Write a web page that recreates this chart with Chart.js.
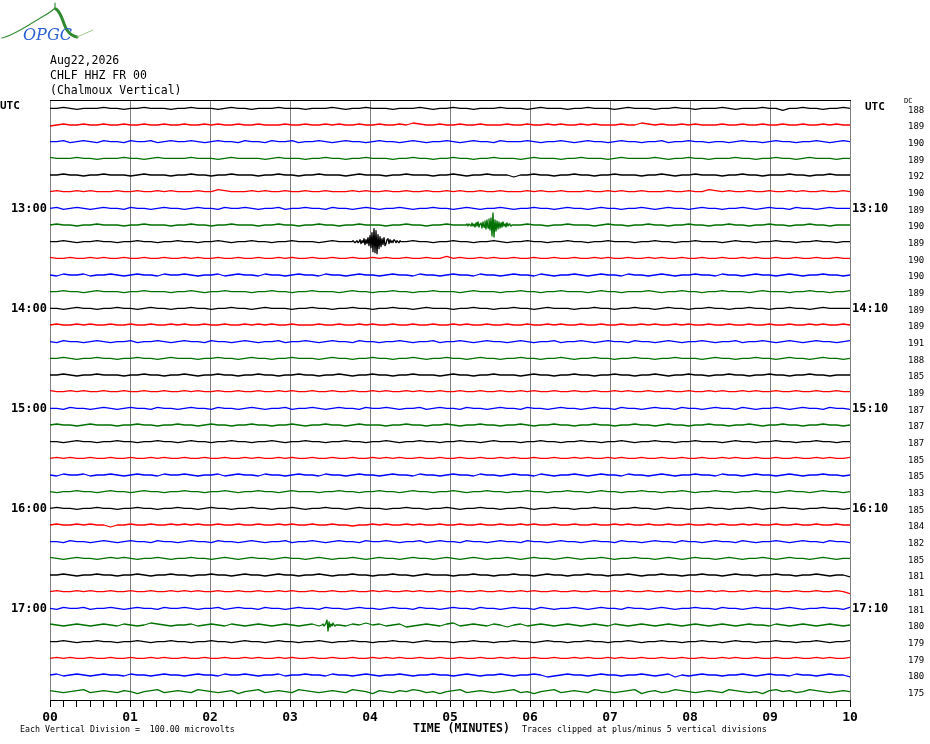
<!DOCTYPE html>
<html><head><meta charset="utf-8">
<script src="https://cdn.jsdelivr.net/npm/chart.js@4.4.1/dist/chart.umd.min.js"></script>
<style>html,body{margin:0;padding:0;background:#fff}canvas{display:block}</style>
</head><body>
<canvas id="c" width="930" height="744"></canvas>
<script>
// ---------------- DATA ----------------
const headerLines = ["Aug22,2026", "CHLF HHZ FR 00", "(Chalmoux Vertical)"];
const minuteLabels = ["00","01","02","03","04","05","06","07","08","09","10"];
const leftHourLabels = ["13:00","14:00","15:00","16:00","17:00"];
const rightHourLabels = ["13:10","14:10","15:10","16:10","17:10"];
const dcValues = [188,189,190,189,192,190,189,190,189,190,190,189,189,189,191,188,185,189,
                  187,187,187,185,185,183,185,184,182,185,181,181,181,180,179,179,180,175];
// trace samples over 10 minutes ('m' = 0, each letter step = 1 pixel of deflection, up positive)
const traces = [
"mmnmlmmmnm mlmmnmmmlm mnmmmlmnmm lmmmnmmmlm mmnmlmmnmm mlmmmnmlmm nmmlmmmnmm mlmnmmmlmm nmmmlmnmmm lmmnmmlmmm nmlmmmnmmk mmnmmlmmnm",
"lmnmmnmmnm mnmmnmmnmm nmmnmnmmnm mnmmmnmmnm mnmnmmnmmn mmnmonmmnm mnmmnmmmnm mnmmnmnmmn mnmmmnmmon mnmmnmnmmm nmmnmmnmmn mmnmmnmnmm",
"mmnlmnmlnm mlnmmnlmnm mnmlmnmmln mmlnmmnlmm nmlmnmmlmn mmlmnmlmmn mlmnmmlnmm mnmlmmnmlm nmmlmnmmlm mnlmmnmmlm mlmnmmlmnm mlmmnmlmnm",
"nmmmnmmlmm mnmmlmnmmm mnmmmlmnmm mmlmnmmmlm mnmmlmmnmm mlmmnmmlmm nmmlmmnmmm lmnmmmlmmn mmmlmnmmmm nmlmmnmmlm mmnmmlmmnm mlmnmmmlmm",
"mmnmmlmmnm mmlmnmmmlm mnmmlmmnmm mlmmnmmlmm nmmmlmnmmm lmmnmmmlmm nmlmmnmmmk mmnmmlmmnm mlmmnmmmlm mnmlmmnmmm lmmnmmlmmm nmmlmmnmmm",
"mnmmnmnmmm nmmnmmnmnm mmnmmonmmm nmnmmnmmnm mnmmmnmnmm nmmnmmnmmn mnmmnmmnmm mnmnmmnmmm nmmnmnmmnm mmnmmnmmon mnmmnmmnmm nmnmmnmmnm",
"mnlmnmlmnm mlnmmlmnmm lmnmmlnmmn mlmmnlmmnm mlnmmlmnml mmnmlmmnmm lmnmlmmnml mmnmmlmnmm lmnmmlmmnm lmnmmlmnmm lmmnmlmnmm lnmmlmnmmm",
"mnmmlmmnmm mlmmnmmmlm mnmmlmmnmm mlmmnmmlmm nmmlmmnmmm lmmnmmlmmn mmlmmnmmlm mnmmlmmnmm mlmnmmlmmn mmlmmnmmlm mnmmlmmnmm lmmnmmlmmm",
"mmnmlmmnmm lmmnmmlmmn mmlmmnmlmm nmmlmmnmmm lmnmmlmmnm mlmmnmmlmm nmmlmmnmlm mnmmlmmnmm lmmnmmmlmm nmmlmmnmmm lmnmmlmmnm mlmmnmmlmm",
"nmmnmmnmnm mnmmnmmnmm nmnmmnmmnm mnmmnmnmmn mmnmmnmmnm nmmnmmnmmo mnmmnmnmmn mmnmmnmmnm mnmnmmnmmn mnmmnmmnmm nmmnmnmmnm mnmmnmmnmm",
"mlnmmnlmmn mlmnmmlnmm nmlmmnlmnm mlnmmlmnmm lnmmlmnmml mnmmlnmmlm nmmlnmmlmn mmlnmlmmnm lmnmmlnmml mnmlmmnmml nmmlmnmmlm nmlmmnmmlm",
"mmnmmlmnmm mlmmnmmmlm mnmlmmnmmm lmmnmmlmmn mmmlmnmmlm mnmmlmmnmm mlmnmmmlmm nmmlmmnmmm lmnmmlmmmn mlmmnmmlmm nmmmlmnmmm lmmnmmlmmn",
"mmlmnmmlmm nmmlmnmmlm mnmmlmmnmm lmnmmmlmmn mmlmmnmmlm mnmmlmnmmm lmmnmmlmmn mmlmnmmmlm mnmmlmmnmm lmnmmlmmnm mlmmnmmlmm nmmlmnmmmm",
"mnmmnmnmmn mmnmmnmmnm nmmnmmnmmn mnmnmmnmmm nmmnmmnmnm mnmmnmmnmm nmnmmnmmnm mnmmnmnmmn mmnmmnmmnm nmmnmnmmnm mnmmnmmnmm nmmnmnmmnm",
"mlnmmlmnml mmnlmmnmlm nmmlnmmlmn mlmmnlmmnm lmnmmlnmml mmnmlmmnlm mnmlmnmmlm nmlmmnlmmn mlmnmmlnmm lmnmlmmnml mmnlmmnmlm nmlmnmmlmn",
"mmnmlmmnmm lmmnmmlmnm mmlmmnmmlm nmmlmmnmmm lmnmmlmmnm mlmmnmlmmn mmlmnmmlmm nmmlmmnmlm mnmmlmmnmm lmmnmmmlmn mmlmmnmmlm nmmlmnmmlm",
"mmnmlmmnmm mlmmnmmlmm nmlmmnmmlm mnmmlmmnmm lmmnmlmmnm mlmmnmmmlm nmmlmmnmmm lmnmmlmmnm mlmmnmmlmm nmlmmnmmlm mnmmlmmnmm lmmnmmlmmm",
"nmmnmnmmnm mnmmnmmnmm nmnmmnmmnm mnmmnmnmmn mmnmmnmmnm nmmnmnmmnm mnmmnmmnmm nmnmmnmmnm mnmmnmnmmn mmnmmnmmnm nmmnmnmmnm mnmmnmmnmm",
"mmlnmmlmnm lmnmmlnmml mnmmlnmmlm nmlmmnlmmn mlmnmmlnmm nmlmmnlmnm mlnmmlmnmm lnmmlmnmml mnmmlnmmlm nmmlnmmlmn mmlnmlmmnm lmnmmlnmml",
"mnmmlmnmmm lmmnmmlmmn mmlmnmmlmm nmmlmmnmlm mnmmlmnmmm lmmnmmlmmn mlmmnmmlmm nmlmmnmmlm mnmmlmmnmm lmnmmlmmnm mlmmnmlmmn mmlmmnmmlm",
"mmlmnmmlmm nmmlmmnmml mnmmlmmnmm lmmnmlmmnm mlmmnmmlmm nmlmmnmmlm mnmmlmnmmm lmmnmmlmmn mmlmmnmlmm nmmlmmnmmm lmnmmlmmnm mlmmnmmlmm",
"mnmnmmnmmn mmnmmnmnmm nmmnmmnmmn mnmmnmnmmn mmnmmnmmnm nmnmmnmmnm mnmmnmmnmn mmnmmnmmnm nmmnmnmmnm mnmmnmmnmm nmnmmnmmnm mnmmnmnmmn",
"mlnmmnlmmn mlmnmmlnmm nmlmmnlmnm mlnmmlmnmm lnmmlmnmml mnmmlnmmlm nmmlnmmlmn mmlnmlmmnm lmnmmlnmml mnmlmmnmml nmmlmnmmlm nmlmmnmmlm",
"mlmmnmmlmn mmlmnmmlmm nmmlmmnmlm mnmmlmnmmm lmmnmmlmmn mmlmnmmlmm nmlmmnmmlm mnmmlmmnmm lmnmmlmmnm mlmmnmlmmn mmlmmnmmlm nmmlmnmmlm",
"mnmmlmmnmm lmmnmmlmmn mmlmnmmlmm nmmlmmnmlm mnmmlmnmmm lmmnmmlmmn mlmmnmmlmm nmlmmnmmlm mnmmlmmnmm lmnmmlmmnm mlmmnmlmmn mmlmmnmmlm",
"mnmmnmnmmk mmnmmnmmnm nmnmmnmmnm mnmmnmnmmn mmnmmlmmnm nmmnmnmmnm mnmmnmmnmm nmnmmnmmnm mnmmnmnmmn mmnmmnmmnm nmmnmnmmnm mnmmnmmnmm",
"mmlnmmlmnm lmnmmlnmml mnmmlnmmlm nmlmmnlmmn mlmnmmlnmm nmlmmnlmnm mlnmmlmnmm lnmmlmnmml mnmmlnmmlm nmmlnmmlmn mmlnmlmmnm lmnmmlnmml",
"nmlmnmmlmn mnmlmmnmlm mnmmlmnmlm nmmlmnmmlm nmlmmnmlmn mmlmnmmlmn mlmnmlmmnm lmnmmlmnml mmnmlmmnmm lmnmlmnmml mnmlmmnmlm nmmlmnmlmm",
"mmnmlmmnmm lmmnmlmmnm mlmmnmmlmn mmlmnmmlmm nmlmmnmmlm mnmmlmnmmm lmmnmmlmmn mmlmnmmlmm nmmlmmnmlm mnmmlmmnmm lmnmmlmmnm mlmmnmlmmk",
"mnmmnmnmmn mmnmmnmmnm nmnmmnmmnm mnmmnmnmmn mmnmmnmmnm nmmnmnmmnm mnmmnmmnmm nmnmmnmmnm mnmmnmnmmn mmnmmnmmnm nmmnmnmmnm mnmmnmmnmk",
"mlnmmnlmmn mlmnmmlnmm nmlmmnlmnm mlnmmlmnmm lnmmlmnmml mnmmlnmmlm nmmlnmmlmn mmlnmlmmnm lmnmmlnmml mnmlmmnmml nmmlmnmmlm nmlmmnmmln",
"nmlmnmlmnm lnmlmonmlm mnlmnmlnml mnmlmnmlmn lmnmlnmomn lmnklmnmln olmnmlnmkm nlmnmlmnml mnmlnmlmnm lmnmlmnmlm nmlmnmmlnm lmnmlmnmlm",
"mmnmlmmnmm lmmnmlmmnm mlmmnmmlmn mmlmnmmlmm nmlmmnmmlm mnmmlmnmmm lmmnmmlmmn mmlmnmmlmm nmmlmmnmlm mnmmlmmnmm lmnmmlmmnm mlmmnmlmmn",
"mnmnmmnmmn mmnmmnmnmm nmmnmmnmmn mnmmnmnmmn mmnmmnmmnm nmnmmnmmnm mnmmnmmnmn mmnmmnmmnm nmmnmnmmnm mnmmnmmnmm nmnmmnmmnm mnmmnmnmmn",
"mnlmnmlmnm mlnmmlmnmm lmnmmlnmmn mlmmnlmmnm mlnmmlmnml mmnmlmmnmm lmnmlmmnml mmnmklmnmm lmnmmlmmnm lmnkmlmnmm lmmnmlmnmm lnmmlmnmmk",
"nmlmnolmnm lnmkmnolmn mlonmlmnkm nolmnmlonm lmnmlonmkn mlnmonlmkm nolmnmlmno lmkmnolmnm lonmlmnokm nlmonmlmnm lonmlmknom nlmonmlmnm"
];
// seismic events sampled more finely (trace index, start in seconds, samples every 0.75 s)
const eventTrace = [8, 7, 31];
const eventStart = [226.5, 312, 204];
const eventWaves = [
"mnmlmnlmokn lpjokqisgvc zbxatfrhpjq ikopkolnlon lnmlnm",
"mnlnmlolnko lpknojpkqir jshtbyargqi pjokplnkoln mlm",
"mnlmorgpknlomlm"
];
const eventStep = 0.75;

// ---------------- BUILD ----------------
const palette = ["#000000", "#ff0000", "#0000ff", "#007000"];
const ROWS = traces.length;
const ROW_PX = 600 / ROWS;
const mono = '"DejaVu Sans Mono", "Liberation Mono", monospace';
function decode(s) { return s.replace(/\s+/g, "").split("").map(c => c.charCodeAt(0) - 109); }

const datasets = traces.map((s, i) => {
  const base = ROWS - 0.5 - i;
  const v = decode(s);
  const step = 600 / (v.length - 1);
  let pts = v.map((d, k) => ({ x: k * step, y: base + d / ROW_PX }));
  eventTrace.forEach((t, e) => {
    if (t !== i) return;
    const w = decode(eventWaves[e]);
    const s0 = eventStart[e], s1 = s0 + (w.length - 1) * eventStep;
    pts = pts.filter(p => p.x < s0 || p.x > s1)
      .concat(w.map((d, k) => ({ x: s0 + k * eventStep, y: base + d / ROW_PX })))
      .sort((a, b) => a.x - b.x);
  });
  return { data: pts, borderColor: palette[i % 4], borderWidth: 1.3, pointRadius: 0, tension: 0, fill: false };
});

const rowTicks = axis => { axis.ticks = traces.map((_, i) => ({ value: ROWS - 0.5 - i })); };
const rowIndex = v => Math.round(ROWS - 0.5 - v);

const textPlugin = {
  id: "texts",
  afterDraw(chart) {
    const ctx = chart.ctx;
    ctx.save();
    // logo
    ctx.lineCap = "round";
    ctx.strokeStyle = "#3a8f3a"; ctx.lineWidth = 1.2;
    ctx.beginPath(); ctx.moveTo(2, 38); ctx.bezierCurveTo(15, 35, 30, 24, 42, 17);
    ctx.quadraticCurveTo(51, 12, 55, 8); ctx.stroke();
    ctx.beginPath(); ctx.moveTo(55, 9); ctx.lineTo(55, 3); ctx.stroke();
    ctx.strokeStyle = "#2f8a2f"; ctx.lineWidth = 3;
    ctx.beginPath(); ctx.moveTo(56, 9); ctx.bezierCurveTo(62, 13, 63, 24, 67, 30);
    ctx.quadraticCurveTo(71, 36, 77, 37); ctx.stroke();
    ctx.strokeStyle = "#9fc98a"; ctx.lineWidth = 1;
    ctx.beginPath(); ctx.moveTo(77, 37); ctx.lineTo(93, 30); ctx.stroke();
    ctx.font = 'italic 16px "DejaVu Serif", serif';
    ctx.fillStyle = "#2a5fd0"; ctx.textBaseline = "middle"; ctx.textAlign = "left";
    ctx.fillText("OPGC", 23, 36);
    // header
    ctx.fillStyle = "#000";
    ctx.font = "11.5px " + mono;
    headerLines.forEach((t, k) => ctx.fillText(t, 50, 61 + k * 15));
    ctx.font = "bold 11px " + mono;
    ctx.fillText("UTC", 0, 106);
    ctx.fillText("UTC", 865, 107);
    ctx.font = "7px " + mono;
    ctx.fillText("DC", 904, 101);
    ctx.font = "8.3px " + mono;
    ctx.fillText("Each Vertical Division =  100.00 microvolts", 20, 730);
    ctx.fillText("Traces clipped at plus/minus 5 vertical divisions", 522, 730);
    ctx.font = "bold 11.5px " + mono;
    ctx.fillText("TIME (MINUTES)", 413, 729);
    ctx.restore();
  }
};

new Chart(document.getElementById("c"), {
  type: "line",
  data: { datasets },
  plugins: [textPlugin],
  options: {
    responsive: false, animation: false, devicePixelRatio: 1,
    layout: { padding: { top: 100, left: 0, right: 0, bottom: 0 } },
    plugins: { legend: { display: false }, tooltip: { enabled: false }, title: { display: false } },
    elements: { line: { borderJoinStyle: "round" } },
    scales: {
      x: {
        type: "linear", position: "bottom", min: 0, max: 600,
        afterBuildTicks: a => { const t = []; for (let s = 0; s <= 600; s += 10) t.push({ value: s }); a.ticks = t; },
        afterFit: a => { a.height = 44; },
        grid: {
          color: c => (c.tick && c.tick.value % 60 === 0) ? "#808080" : "rgba(0,0,0,0)",
          tickColor: "#000", tickLength: 7, lineWidth: 1, drawTicks: true
        },
        border: { display: true, color: "#000", width: 1 },
        ticks: {
          autoSkip: false, maxRotation: 0, minRotation: 0, padding: 3, color: "#000",
          font: { family: mono, size: 13, weight: "bold" },
          callback: v => (v % 60 === 0) ? minuteLabels[v / 60] : ""
        }
      },
      xTop: {
        type: "linear", position: "top", min: 0, max: 600,
        afterFit: a => { a.height = 0; },
        grid: { display: false, drawTicks: false },
        ticks: { display: false },
        border: { display: true, color: "#000", width: 1 }
      },
      y: {
        type: "linear", position: "left", min: 0, max: ROWS,
        afterBuildTicks: rowTicks,
        afterFit: a => { a.width = 50; },
        grid: { display: false, drawTicks: false },
        border: { display: false },
        ticks: {
          autoSkip: false, padding: 3, labelOffset: 1, color: "#000",
          font: { family: mono, size: 12, weight: "bold" },
          callback: v => { const i = rowIndex(v); return (i % 6 === 0 && i > 0) ? leftHourLabels[i / 6 - 1] : ""; }
        }
      },
      yRight: {
        type: "linear", position: "right", min: 0, max: ROWS, weight: 0,
        afterBuildTicks: rowTicks,
        afterFit: a => { a.width = 55; },
        grid: { display: false, drawTicks: false },
        border: { display: false },
        ticks: {
          autoSkip: false, padding: 2, labelOffset: 1, color: "#000",
          font: { family: mono, size: 12, weight: "bold" },
          callback: v => { const i = rowIndex(v); return (i % 6 === 0 && i > 0) ? rightHourLabels[i / 6 - 1] : ""; }
        }
      },
      yDC: {
        type: "linear", position: "right", min: 0, max: ROWS, weight: 1,
        afterBuildTicks: rowTicks,
        afterFit: a => { a.width = 25; },
        grid: { display: false, drawTicks: false },
        border: { display: false },
        ticks: {
          autoSkip: false, padding: 3, labelOffset: 2, color: "#000",
          font: { family: mono, size: 9 },
          callback: v => String(dcValues[rowIndex(v)])
        }
      }
    }
  }
});
</script>
</body></html>
